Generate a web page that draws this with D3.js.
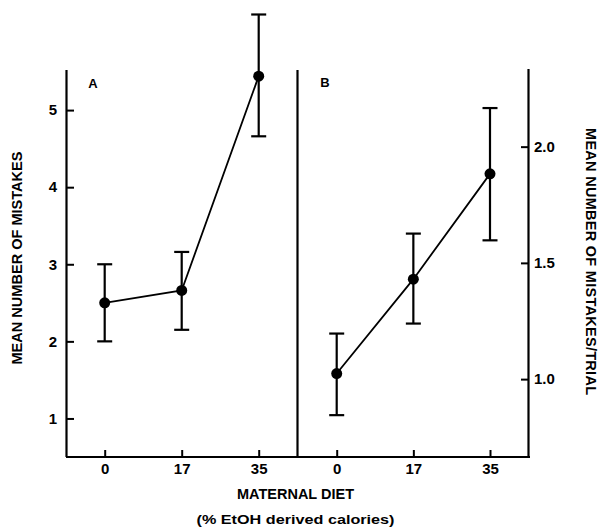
<!DOCTYPE html>
<html>
<head>
<meta charset="utf-8">
<script src="https://cdn.jsdelivr.net/npm/d3@7"></script>
<style>
  body { margin: 0; background: #fff; }
  svg { display: block; }
  text { font-family: "Liberation Sans", Arial, Helvetica, sans-serif; font-weight: bold; fill: #000; }
</style>
</head>
<body>
<svg id="chart" width="601" height="532"></svg>
<script>
// ---- Data ----
const categories = ["0", "17", "35"];
// Panel A: mean number of mistakes
const meanA = [2.50, 2.66, 5.44];
const lowA  = [2.00, 2.15, 4.66];
const highA = [3.00, 3.16, 6.24];
// Panel B: mean number of mistakes per trial
const meanB = [1.024, 1.43, 1.883];
const lowB  = [0.845, 1.239, 1.597];
const highB = [1.196, 1.626, 2.166];
const ticksA = [1, 2, 3, 4, 5];
const ticksB = [1.0, 1.5, 2.0];

const svg = d3.select("#chart");
const y0 = 457, yTop = 70;
const leftX = 66, midX = 297.5, rightX = 529;

const xA = d3.scalePoint().domain(categories).range([104.7, 258.7]);
const xB = d3.scalePoint().domain(categories).range([336.7, 490]);
const yA = d3.scaleLinear().domain([0.5, 5.52]).range([y0, yTop]);
const yB = d3.scaleLinear().domain([0.665, 2.334]).range([y0, 69]);

const fontTick = "15px";

// Left y axis (panel A)
const gA = svg.append("g").attr("transform", `translate(${leftX},0)`)
  .call(d3.axisLeft(yA).tickValues(ticksA).tickFormat(d3.format("d"))
        .tickSizeInner(-8).tickSizeOuter(0).tickPadding(9));
// Right y axis (panel B)
const gB = svg.append("g").attr("transform", `translate(${rightX},0)`)
  .call(d3.axisRight(yB).tickValues(ticksB).tickFormat(d3.format(".1f"))
        .tickSizeInner(-8).tickSizeOuter(0).tickPadding(5));
// Bottom axes
const gxA = svg.append("g").attr("transform", `translate(0,${y0})`)
  .call(d3.axisBottom(xA).tickSizeInner(-7).tickSizeOuter(0).tickPadding(6));
const gxB = svg.append("g").attr("transform", `translate(0,${y0})`)
  .call(d3.axisBottom(xB).tickSizeInner(-7).tickSizeOuter(0).tickPadding(6));
gxA.select(".domain").remove();
gxB.select(".domain").remove();

[gA, gB, gxA, gxB].forEach(g => {
  g.selectAll("text").style("font-size", fontTick).style("font-family", '"Liberation Sans", Arial, sans-serif').style("font-weight", "bold");
  g.selectAll("line").attr("stroke", "#000").attr("stroke-width", 2);
  g.selectAll(".domain").attr("stroke", "#000").attr("stroke-width", 2.2);
});
gA.select(".domain").attr("d", `M0.5,${yTop}V${y0}`);
gB.select(".domain").attr("d", `M-0.5,69V${y0}`);

// Bottom baseline spanning both panels
svg.append("line").attr("x1", leftX).attr("x2", rightX + 1).attr("y1", y0).attr("y2", y0)
  .attr("stroke", "#000").attr("stroke-width", 2.2);
// Divider
svg.append("line").attr("x1", midX).attr("x2", midX).attr("y1", yTop).attr("y2", y0)
  .attr("stroke", "#000").attr("stroke-width", 2.2);

function drawPanel(x, y, mean, low, high) {
  const g = svg.append("g");
  const line = d3.line().x((d, i) => x(categories[i])).y(d => y(d));
  g.append("path").datum(mean).attr("d", line).attr("fill", "none")
    .attr("stroke", "#000").attr("stroke-width", 1.8);
  categories.forEach((c, i) => {
    const cx = x(c);
    g.append("line").attr("x1", cx).attr("x2", cx).attr("y1", y(low[i])).attr("y2", y(high[i]))
      .attr("stroke", "#000").attr("stroke-width", 2.2);
    [low[i], high[i]].forEach(v => {
      g.append("line").attr("x1", cx - 7.5).attr("x2", cx + 7.5).attr("y1", y(v)).attr("y2", y(v))
        .attr("stroke", "#000").attr("stroke-width", 2.2);
    });
    g.append("circle").attr("cx", cx).attr("cy", y(mean[i])).attr("r", 5.5).attr("fill", "#000");
  });
}
drawPanel(xA, yA, meanA, lowA, highA);
drawPanel(xB, yB, meanB, lowB, highB);

// Panel labels
svg.append("text").attr("x", 93).attr("y", 88).attr("text-anchor", "middle").style("font-size", "13px").text("A");
svg.append("text").attr("x", 325).attr("y", 87).attr("text-anchor", "middle").style("font-size", "13px").text("B");

// Axis titles
svg.append("text").attr("transform", "translate(22,258) rotate(-90)").attr("text-anchor", "middle")
  .style("font-size", "14.5px").attr("textLength", 213).attr("lengthAdjust", "spacingAndGlyphs")
  .text("MEAN NUMBER OF MISTAKES");
svg.append("text").attr("transform", "translate(586,261.5) rotate(90)").attr("text-anchor", "middle")
  .style("font-size", "14.5px").attr("textLength", 267).attr("lengthAdjust", "spacing")
  .text("MEAN NUMBER OF MISTAKES/TRIAL");
svg.append("text").attr("x", 295.5).attr("y", 499).attr("text-anchor", "middle")
  .style("font-size", "14px").attr("textLength", 117).attr("lengthAdjust", "spacingAndGlyphs")
  .text("MATERNAL DIET");
svg.append("text").attr("x", 295.5).attr("y", 524).attr("text-anchor", "middle")
  .style("font-size", "13.5px").attr("textLength", 198).attr("lengthAdjust", "spacingAndGlyphs")
  .text("(% EtOH derived calories)");
</script>
</body>
</html>
